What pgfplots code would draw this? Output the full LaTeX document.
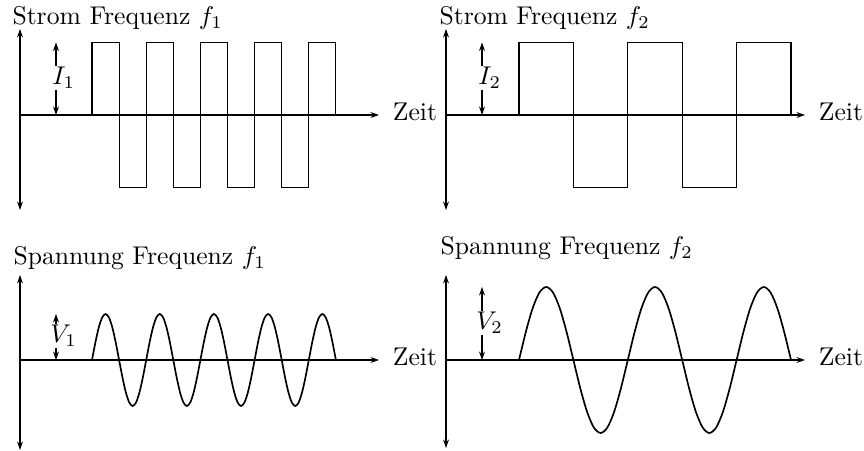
\documentclass[border=0pt]{standalone}
\usepackage{pgfplots}
\pgfplotsset{compat=1.18}
\usetikzlibrary{arrows.meta}

% 1 data unit = 0.39pt on both axes
\pgfplotsset{
  wave axis/.style={
    axis lines=middle,
    x=0.39pt, y=0.39pt,
    xmin=0, xmax=359,
    ticks=none,
    enlargelimits=false,
    anchor=origin,
    clip=false,
    axis line style={line width=0.4pt},
    x axis line style={-{Stealth[length=3.3pt,width=2.3pt]}},
    y axis line style={{Stealth[length=3.3pt,width=2.3pt]}-{Stealth[length=3.3pt,width=2.3pt]}},
  },
  square/.style={black, line width=0.45pt, mark=none},
  wave/.style={black, line width=0.65pt, smooth, mark=none},
  dim/.style={black, line width=0.4pt,
    {Stealth[length=3.3pt,width=2.3pt]}-{Stealth[length=3.3pt,width=2.3pt]}, mark=none},
}
\tikzset{
  amp/.style={fill=white, inner sep=0.5pt, xshift=3pt},
  zeit/.style={anchor=base west, inner sep=0pt, xshift=5.2pt, yshift=-2pt},
  ttl/.style={anchor=base west, inner sep=0pt},
}

\begin{document}
\begin{tikzpicture}
\useasboundingbox (0pt,0pt) rectangle (336.96pt,-175.89pt);

% ---------- current, frequency f1 ----------
\begin{axis}[wave axis, at={(7.8pt,-44.85pt)}, ymin=-95, ymax=86]
\addplot[square] coordinates {
  (72,0) (72,72.5) (99.1,72.5) (99.1,-72.5) (126.2,-72.5) (126.2,72.5)
  (153.3,72.5) (153.3,-72.5) (180.4,-72.5) (180.4,72.5) (207.5,72.5)
  (207.5,-72.5) (234.6,-72.5) (234.6,72.5) (261.7,72.5) (261.7,-72.5)
  (288.8,-72.5) (288.8,72.5) (315.9,72.5) (315.9,0)};
\addplot[dim] coordinates {(36,0) (36,72.5)};
\node[amp] at (axis cs:36,37) {$I_1$};
\node[zeit] at (axis cs:359,0) {Zeit};
\node[ttl] at (axis cs:-8,90) {Strom Frequenz $f_1$};
\end{axis}

% ---------- current, frequency f2 ----------
\begin{axis}[wave axis, at={(173.94pt,-44.85pt)}, ymin=-95, ymax=86]
\addplot[square] coordinates {
  (73,0) (73,72.5) (127.4,72.5) (127.4,-72.5) (181.8,-72.5) (181.8,72.5)
  (236.2,72.5) (236.2,-72.5) (290.6,-72.5) (290.6,72.5) (345,72.5) (345,0)};
\addplot[dim] coordinates {(36,0) (36,72.5)};
\node[amp] at (axis cs:36,37) {$I_2$};
\node[zeit] at (axis cs:359,0) {Zeit};
\node[ttl] at (axis cs:-7,90) {Strom Frequenz $f_2$};
\end{axis}

% ---------- voltage, frequency f1 ----------
\begin{axis}[wave axis, at={(7.8pt,-140.4pt)}, ymin=-90, ymax=85]
\addplot[wave] coordinates {
  (72.00,0) (75.39,17.60) (78.78,32.53) (82.16,42.50) (85.55,46)
  (88.94,42.50) (92.33,32.53) (95.71,17.60) (99.10,0)
  (102.49,-17.60) (105.88,-32.53) (109.26,-42.50) (112.65,-46)
  (116.04,-42.50) (119.43,-32.53) (122.81,-17.60) (126.20,0)
  (129.59,17.60) (132.98,32.53) (136.36,42.50) (139.75,46)
  (143.14,42.50) (146.53,32.53) (149.91,17.60) (153.30,0)
  (156.69,-17.60) (160.08,-32.53) (163.46,-42.50) (166.85,-46)
  (170.24,-42.50) (173.63,-32.53) (177.01,-17.60) (180.40,0)
  (183.79,17.60) (187.18,32.53) (190.56,42.50) (193.95,46)
  (197.34,42.50) (200.73,32.53) (204.11,17.60) (207.50,0)
  (210.89,-17.60) (214.28,-32.53) (217.66,-42.50) (221.05,-46)
  (224.44,-42.50) (227.83,-32.53) (231.21,-17.60) (234.60,0)
  (237.99,17.60) (241.38,32.53) (244.76,42.50) (248.15,46)
  (251.54,42.50) (254.93,32.53) (258.31,17.60) (261.70,0)
  (265.09,-17.60) (268.48,-32.53) (271.86,-42.50) (275.25,-46)
  (278.64,-42.50) (282.03,-32.53) (285.41,-17.60) (288.80,0)
  (292.19,17.60) (295.58,32.53) (298.96,42.50) (302.35,46)
  (305.74,42.50) (309.13,32.53) (312.51,17.60) (315.90,0)};
\addplot[dim] coordinates {(36,0) (36,46)};
\node[amp] at (axis cs:36,24) {$V_1$};
\node[zeit] at (axis cs:359,0) {Zeit};
\node[ttl] at (axis cs:-7,95.7) {Spannung Frequenz $f_1$};
\end{axis}

% ---------- voltage, frequency f2 ----------
\begin{axis}[wave axis, at={(173.94pt,-140.4pt)}, ymin=-88, ymax=85]
\addplot[wave] coordinates {
  (73.0,0) (79.8,27.94) (86.6,51.62) (93.4,67.44) (100.2,73)
  (107.0,67.44) (113.8,51.62) (120.6,27.94) (127.4,0)
  (134.2,-27.94) (141.0,-51.62) (147.8,-67.44) (154.6,-73)
  (161.4,-67.44) (168.2,-51.62) (175.0,-27.94) (181.8,0)
  (188.6,27.94) (195.4,51.62) (202.2,67.44) (209.0,73)
  (215.8,67.44) (222.6,51.62) (229.4,27.94) (236.2,0)
  (243.0,-27.94) (249.8,-51.62) (256.6,-67.44) (263.4,-73)
  (270.2,-67.44) (277.0,-51.62) (283.8,-27.94) (290.6,0)
  (297.4,27.94) (304.2,51.62) (311.0,67.44) (317.8,73)
  (324.6,67.44) (331.4,51.62) (338.2,27.94) (345.0,0)};
\addplot[dim] coordinates {(36,0) (36,73)};
\node[amp] at (axis cs:36,37) {$V_2$};
\node[zeit] at (axis cs:359,0) {Zeit};
\node[ttl] at (axis cs:-6,105) {Spannung Frequenz $f_2$};
\end{axis}
\end{tikzpicture}
\end{document}
